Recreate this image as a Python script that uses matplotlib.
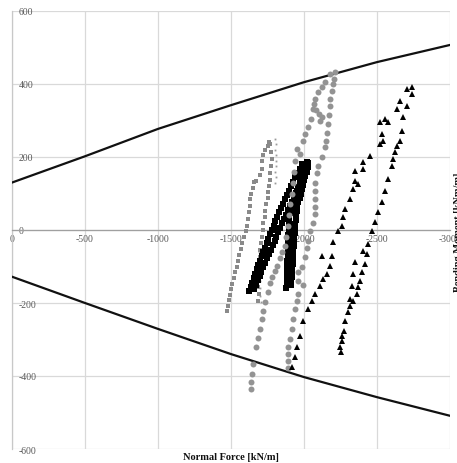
import matplotlib
matplotlib.use("Agg")
import matplotlib.pyplot as plt

# envelope (interaction limit) read at the gridlines
env_n = [0, -500, -1000, -1500, -2000, -2500, -3000]
env_upper = [130, 202, 277, 342, 405, 460, 507]
env_lower = [-128, -200, -271, -340, -403, -458, -509]

# gray squares: ascending branch then descending branch
gsq_up_x = [-1475, -1480, -1488, -1496, -1503, -1510, -1520, -1530, -1540, -1548, -1558, -1568,
            -1578, -1590, -1600, -1608, -1615, -1622, -1630, -1632, -1640, -1648, -1655, -1670,
            -1700, -1712, -1712, -1718, -1735, -1750, -1760]
gsq_up_y = [-222, -208, -193, -178, -162, -147, -131, -115, -100, -84, -68, -52,
            -36, -20, -4, 12, 30, 48, 66, 84, 100, 116, 132, 134,
            150, 168, 188, 205, 218, 230, 242]
gsq_dn_x = [-1770, -1775, -1778, -1772, -1765, -1768, -1760, -1750, -1752, -1740, -1735, -1730,
            -1722, -1718, -1710, -1705, -1700, -1698, -1695, -1690, -1688, -1686, -1690, -1688]
gsq_dn_y = [235, 215, 195, 175, 155, 138, 120, 105, 88, 70, 52, 35,
            18, 0, -18, -35, -55, -75, -95, -115, -135, -155, -175, -195]

# tiny gray dots trailing the gray-square loop
gdot_x = [-1800, -1805, -1800, -1808, -1805, -1810, -1800, -1806, -1798,
          -1690, -1695, -1692, -1698, -1700, -1702, -1700, -1705]
gdot_y = [250, 235, 220, 205, 190, 175, 160, 145, 130,
          -60, -80, -100, -120, -140, -160, -180, -198]

# black squares: strands of the dense band
bsq_a_x = [-1625, -1635, -1645, -1655, -1665, -1676, -1687, -1698, -1709, -1720, -1732, -1744,
           -1756, -1768, -1780, -1792, -1804, -1816, -1828, -1842, -1856, -1870, -1884, -1898,
           -1912, -1926, -1940, -1955, -1970, -1985]
bsq_a_y = [-168, -156, -144, -132, -120, -108, -96, -84, -72, -60, -48, -36,
           -24, -12, 0, 12, 24, 36, 48, 60, 72, 84, 96, 108,
           120, 132, 144, 156, 168, 180]
bsq_b_x = [-1660, -1672, -1684, -1696, -1708, -1720, -1733, -1746, -1759, -1772, -1785, -1798,
           -1811, -1824, -1837, -1850, -1863, -1876, -1890, -1904, -1918, -1932, -1946, -1958,
           -1970, -1982, -1994, -2004, -2014, -2022]
bsq_b_y = [-162, -150, -138, -126, -114, -102, -90, -78, -66, -54, -42, -30,
           -18, -6, 6, 18, 30, 42, 54, 66, 78, 90, 102, 114,
           126, 138, 150, 162, 174, 186]
bsq_c_x = [-1880, -1881, -1882, -1883, -1884, -1885, -1886, -1887, -1888, -1889, -1890, -1891,
           -1892, -1894, -1896, -1898, -1900, -1905, -1912, -1920, -1930, -1940, -1950, -1960,
           -1970, -1980, -1990, -1998, -2006]
bsq_c_y = [-158, -146, -134, -122, -110, -98, -86, -74, -62, -50, -38, -26,
           -14, -2, 10, 22, 34, 46, 58, 70, 82, 94, 106, 118,
           130, 142, 154, 166, 178]
bsq_d_x = [-1912, -1914, -1916, -1918, -1920, -1922, -1924, -1926, -1928, -1930, -1932, -1934,
           -1936, -1938, -1940, -1943, -1946, -1950, -1955, -1962, -1970, -1978, -1986, -1994,
           -2002, -2010, -2018, -2024, -2028]
bsq_d_y = [-152, -140, -128, -116, -104, -92, -80, -68, -56, -44, -32, -20,
           -8, 4, 16, 28, 40, 52, 64, 76, 88, 100, 112, 124,
           136, 148, 160, 172, 184]

# gray circles
gci_up_x = [-1637, -1637, -1644, -1651, -1671, -1685, -1699, -1712, -1722, -1735, -1752, -1768,
            -1782, -1800, -1818, -1835, -1850, -1870, -1880, -1890, -1900, -1905, -1915, -1925,
            -1932, -1938, -1952, -1973, -1993, -2010, -2027, -2048, -2062, -2075, -2096, -2120,
            -2144, -2178, -2085, -2070, -2100, -2110, -2125]
gci_up_y = [-436, -416, -395, -367, -321, -295, -271, -245, -222, -198, -170, -145,
            -128, -112, -98, -78, -60, -45, -20, 10, 40, 70, 100, 130,
            160, 189, 222, 208, 244, 262, 282, 304, 332, 359, 378, 392,
            405, 427, 330, 345, 318, 300, 310]
gci_dn_x = [-2213, -2205, -2199, -2190, -2180, -2178, -2170, -2164, -2160, -2150, -2144, -2120,
            -2096, -2090, -2075, -2078, -2075, -2072, -2075, -2060, -2041, -2025, -2020, -2005,
            -1985, -1960, -1960, -1990, -1958, -1952, -1938, -1925, -1918, -1904, -1890, -1890,
            -1888, -1890]
gci_dn_y = [433, 415, 400, 380, 360, 340, 315, 290, 265, 245, 227, 200,
            175, 155, 130, 108, 85, 62, 44, 20, -3, -30, -50, -75,
            -100, -115, -140, -150, -175, -195, -216, -244, -271, -299, -321, -340,
            -360, -378]

# black triangles
tri_up_x = [-1918, -1938, -1952, -1973, -1993, -2027, -2055, -2075, -2110, -2130, -2158, -2178,
            -2123, -2192, -2199, -2233, -2260, -2267, -2281, -2315, -2336, -2349, -2370, -2349,
            -2404, -2404, -2452, -2520, -2541, -2534, -2520, -2555, -2575, -2637, -2657, -2705,
            -2740, -2740]
tri_up_y = [-375, -348, -321, -290, -249, -216, -195, -175, -153, -134, -121, -99,
            -71, -71, -33, -3, 11, 36, 58, 85, 112, 134, 126, 162,
            167, 186, 203, 236, 244, 263, 296, 304, 296, 332, 353, 386,
            392, 373]
tri_dn_x = [-2705, -2678, -2671, -2657, -2637, -2623, -2609, -2603, -2575, -2555, -2534, -2507,
            -2486, -2466, -2438, -2404, -2431, -2349, -2418, -2336, -2397, -2383, -2329, -2370,
            -2363, -2315, -2336, -2315, -2301, -2281, -2274, -2260, -2260, -2247, -2253]
tri_dn_y = [340, 310, 271, 244, 230, 214, 195, 175, 140, 107, 77, 49,
            22, -3, -38, -58, -66, -88, -93, -121, -115, -140, -153, -156,
            -175, -189, -195, -208, -225, -249, -277, -290, -304, -321, -334]

x_ticks = [0, -500, -1000, -1500, -2000, -2500, -3000]
y_ticks = [600, 400, 200, 0, -200, -400, -600]

GRAY_SQ = "#8a8a8a"
GRAY_CI = "#939393"

fig = plt.figure(figsize=(4.57, 4.64), dpi=100)
ax = fig.add_axes([12 / 457, 14 / 464, 438 / 457, 438 / 464])

ax.plot(env_n, env_upper, color="#111111", lw=1.6, zorder=3)
ax.plot(env_n, env_lower, color="#111111", lw=1.6, zorder=3)

ax.plot(gsq_up_x + gsq_dn_x, gsq_up_y + gsq_dn_y, ls="none", marker="s", ms=3.5,
        mfc=GRAY_SQ, mec=GRAY_SQ, mew=0, zorder=4)
ax.plot(gdot_x, gdot_y, ls="none", marker="s", ms=1.3, mfc="#9a9a9a", mec="none", zorder=4)
ax.plot(bsq_a_x + bsq_b_x + bsq_c_x + bsq_d_x, bsq_a_y + bsq_b_y + bsq_c_y + bsq_d_y,
        ls="none", marker="s", ms=4.0, mfc="black", mec="black", mew=0, zorder=5)
ax.plot(gci_up_x + gci_dn_x, gci_up_y + gci_dn_y, ls="none", marker="o", ms=4.3,
        mfc=GRAY_CI, mec=GRAY_CI, mew=0, zorder=6)
ax.plot(tri_up_x + tri_dn_x, tri_up_y + tri_dn_y, ls="none", marker="^", ms=4.2,
        mfc="black", mec="black", mew=0, zorder=6)

ax.set_xlim(0, -3000)
ax.set_ylim(-600, 600)
ax.set_xticks(x_ticks)
ax.set_yticks(y_ticks)
ax.set_xticklabels([str(v) for v in x_ticks])
ax.set_yticklabels([str(v) for v in y_ticks])
ax.grid(True, color="#d9d9d9", lw=0.9)
ax.set_axisbelow(True)

for s in ("top", "right"):
    ax.spines[s].set_visible(False)
ax.spines["bottom"].set_position(("data", 0))
ax.spines["bottom"].set_color("#a0a0a0")
ax.spines["bottom"].set_linewidth(0.9)
ax.spines["left"].set_color("#c8c8c8")
ax.spines["left"].set_linewidth(0.9)

ax.tick_params(axis="both", length=0, labelcolor="#595959")
ax.tick_params(axis="x", pad=3)
ax.tick_params(axis="y", pad=-5)
for lbl in ax.get_xticklabels() + ax.get_yticklabels():
    lbl.set_fontfamily("Liberation Serif")
    lbl.set_fontsize(7)
for lbl in ax.get_yticklabels():
    lbl.set_horizontalalignment("left")

fig.text(231 / 457, 1 - 458 / 464, "Normal Force [kN/m]", ha="center", va="center",
         fontsize=7.5, fontweight="bold", family="Liberation Serif", color="#111111")
fig.text(459 / 457, 1 - 232 / 464, "Bending Moment [kNm/m]", ha="center", va="center",
         rotation=90, fontsize=7.5, fontweight="bold", family="Liberation Serif", color="#111111")

fig.savefig("out.png", dpi=100)
